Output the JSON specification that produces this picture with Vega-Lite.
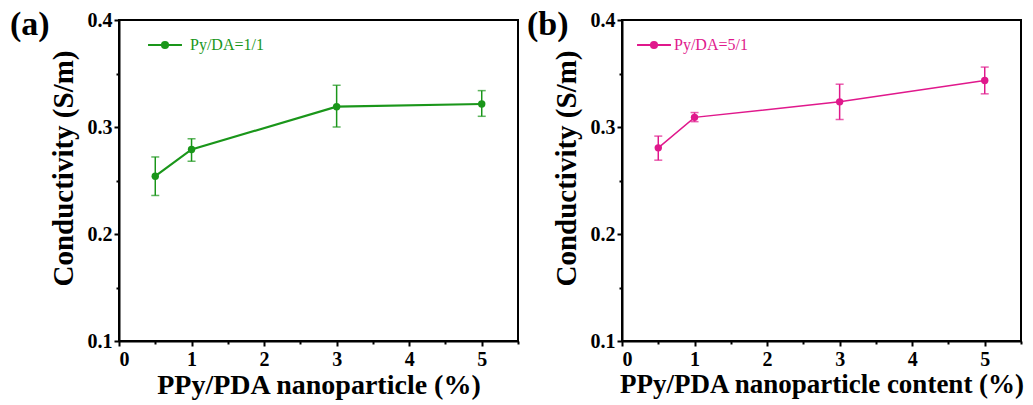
{
  "$schema": "https://vega.github.io/schema/vega-lite/v6.json",
  "padding": {"left": 9, "top": 7, "right": 3, "bottom": 2},
  "background": "white",
  "datasets": {
    "pts": [
      {"panel": "a", "series": "Py/DA=1/1", "x": 0.5, "y": 0.254, "lo": 0.236, "hi": 0.272},
      {"panel": "a", "series": "Py/DA=1/1", "x": 1, "y": 0.279, "lo": 0.268, "hi": 0.289},
      {"panel": "a", "series": "Py/DA=1/1", "x": 3, "y": 0.319, "lo": 0.300, "hi": 0.339},
      {"panel": "a", "series": "Py/DA=1/1", "x": 5, "y": 0.3215, "lo": 0.310, "hi": 0.334},
      {"panel": "b", "series": "Py/DA=5/1", "x": 0.5, "y": 0.2805, "lo": 0.269, "hi": 0.2915},
      {"panel": "b", "series": "Py/DA=5/1", "x": 1, "y": 0.309, "lo": 0.305, "hi": 0.3135},
      {"panel": "b", "series": "Py/DA=5/1", "x": 3, "y": 0.3235, "lo": 0.307, "hi": 0.340},
      {"panel": "b", "series": "Py/DA=5/1", "x": 5, "y": 0.3435, "lo": 0.331, "hi": 0.356}
    ]
  },
  "data": {"name": "pts"},
  "config": {
    "font": "Liberation Serif",
    "view": {"stroke": "black", "strokeWidth": 2},
    "axis": {
      "grid": false,
      "domainColor": "black",
      "domainWidth": 2,
      "tickColor": "black",
      "tickWidth": 2,
      "labelFont": "Liberation Serif",
      "labelFontWeight": "bold",
      "labelFontSize": 20,
      "labelColor": "black",
      "titleFont": "Liberation Serif",
      "titleFontWeight": "bold",
      "titleFontSize": 28,
      "titleColor": "black"
    },
    "axisY": {"titleFontSize": 29, "titleY": 148},
    "title": {"font": "Liberation Serif", "fontWeight": "bold", "fontSize": 34, "color": "black"}
  },
  "spacing": 6,
  "resolve": {"scale": {"color": "independent"}},
  "hconcat": [
    {
      "width": 399,
      "height": 321,
      "title": {"text": "(a)", "anchor": "start", "frame": "group", "dx": -109, "offset": -32},
      "transform": [{"filter": "datum.panel === 'a'"}],
      "encoding": {
        "x": {
          "field": "x", "type": "quantitative",
          "scale": {"domain": [0, 5.5], "nice": false, "zero": false},
          "axis": {
            "title": "PPy/PDA nanoparticle (%)",
            "values": [0, 0.5, 1, 1.5, 2, 2.5, 3, 3.5, 4, 4.5, 5, 5.5],
            "labelExpr": "round(datum.value*2) % 2 === 0 ? format(datum.value, 'd') : ''",
            "tickSize": {"condition": {"test": "round(datum.value*2) % 2 === 0", "value": 5}, "value": 3},
            "labelPadding": 3,
            "titlePadding": 2
          }
        },
        "y": {
          "field": "y", "type": "quantitative",
          "scale": {"domain": [0.1, 0.4], "nice": false, "zero": false},
          "axis": {
            "title": "Conductivity (S/m)",
            "values": [0.1, 0.15, 0.2, 0.25, 0.3, 0.35, 0.4],
            "labelExpr": "round(datum.value*20) % 2 === 0 ? format(datum.value, '.1f') : ''",
            "tickSize": {"condition": {"test": "round(datum.value*20) % 2 === 0", "value": 5}, "value": 3},
            "labelPadding": 2,
            "titlePadding": 9
          }
        }
      },
      "layer": [
        {"mark": {"type": "rule", "color": "#1a961a", "strokeWidth": 1.5}, "encoding": {"y": {"field": "lo", "type": "quantitative"}, "y2": {"field": "hi"}}},
        {"mark": {"type": "tick", "orient": "horizontal", "color": "#1a961a", "size": 8, "thickness": 1.5}, "encoding": {"y": {"field": "lo", "type": "quantitative"}}},
        {"mark": {"type": "tick", "orient": "horizontal", "color": "#1a961a", "size": 8, "thickness": 1.5}, "encoding": {"y": {"field": "hi", "type": "quantitative"}}},
        {"mark": {"type": "line", "color": "#1a961a", "strokeWidth": 2.2}},
        {
          "mark": {"type": "point", "filled": true, "size": 55, "opacity": 1},
          "encoding": {
            "color": {
              "field": "series", "type": "nominal",
              "scale": {"range": ["#1a961a"]},
              "legend": {
                "title": null, "orient": "none", "legendX": 28, "legendY": 7,
                "symbolType": "M-1,0L1,0M-0.18,0A0.18,0.18,0,1,1,0.18,0A0.18,0.18,0,1,1,-0.18,0Z",
                "symbolSize": 1150,
                "symbolStrokeWidth": 2,
                "symbolStrokeColor": "#1a961a",
                "symbolFillColor": "#1a961a",
                "symbolOpacity": 1,
                "labelFont": "Liberation Serif", "labelFontSize": 16, "labelColor": "#1a961a", "labelOffset": 7
              }
            }
          }
        }
      ]
    },
    {
      "width": 399,
      "height": 321,
      "title": {"text": "(b)", "anchor": "start", "frame": "group", "dx": -95, "offset": -32},
      "transform": [{"filter": "datum.panel === 'b'"}],
      "encoding": {
        "x": {
          "field": "x", "type": "quantitative",
          "scale": {"domain": [0, 5.5], "nice": false, "zero": false},
          "axis": {
            "title": "PPy/PDA nanoparticle content (%)",
            "titleFontSize": 27,
            "values": [0, 0.5, 1, 1.5, 2, 2.5, 3, 3.5, 4, 4.5, 5, 5.5],
            "labelExpr": "round(datum.value*2) % 2 === 0 ? format(datum.value, 'd') : ''",
            "tickSize": {"condition": {"test": "round(datum.value*2) % 2 === 0", "value": 5}, "value": 3},
            "labelPadding": 3,
            "titlePadding": 2
          }
        },
        "y": {
          "field": "y", "type": "quantitative",
          "scale": {"domain": [0.1, 0.4], "nice": false, "zero": false},
          "axis": {
            "title": "Conductivity (S/m)",
            "values": [0.1, 0.15, 0.2, 0.25, 0.3, 0.35, 0.4],
            "labelExpr": "round(datum.value*20) % 2 === 0 ? format(datum.value, '.1f') : ''",
            "tickSize": {"condition": {"test": "round(datum.value*20) % 2 === 0", "value": 5}, "value": 3},
            "labelPadding": 2,
            "titlePadding": 9
          }
        }
      },
      "layer": [
        {"mark": {"type": "rule", "color": "#e0188c", "strokeWidth": 1.5}, "encoding": {"y": {"field": "lo", "type": "quantitative"}, "y2": {"field": "hi"}}},
        {"mark": {"type": "tick", "orient": "horizontal", "color": "#e0188c", "size": 8, "thickness": 1.5}, "encoding": {"y": {"field": "lo", "type": "quantitative"}}},
        {"mark": {"type": "tick", "orient": "horizontal", "color": "#e0188c", "size": 8, "thickness": 1.5}, "encoding": {"y": {"field": "hi", "type": "quantitative"}}},
        {"mark": {"type": "line", "color": "#e0188c", "strokeWidth": 1.5}},
        {
          "mark": {"type": "point", "filled": true, "size": 55, "opacity": 1},
          "encoding": {
            "color": {
              "field": "series", "type": "nominal",
              "scale": {"range": ["#e0188c"]},
              "legend": {
                "title": null, "orient": "none", "legendX": 14, "legendY": 7,
                "symbolType": "M-1,0L1,0M-0.18,0A0.18,0.18,0,1,1,0.18,0A0.18,0.18,0,1,1,-0.18,0Z",
                "symbolSize": 1150,
                "symbolStrokeWidth": 2,
                "symbolStrokeColor": "#e0188c",
                "symbolFillColor": "#e0188c",
                "symbolOpacity": 1,
                "labelFont": "Liberation Serif", "labelFontSize": 16, "labelColor": "#e0188c", "labelOffset": 2
              }
            }
          }
        }
      ]
    }
  ]
}
